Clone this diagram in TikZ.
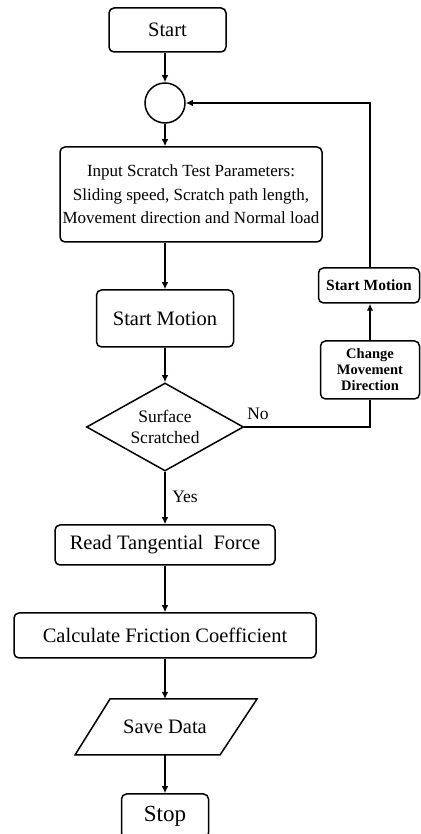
\documentclass[tikz,border=0pt]{standalone}
\usepackage{fontspec}
\setmainfont{Liberation Serif}
\usetikzlibrary{arrows.meta,shapes.geometric,calc}
\begin{document}
\begin{tikzpicture}[x=1pt,y=1pt,
 box/.style={draw,line width=1.5pt,rounded corners=5pt,inner sep=0pt,align=center,font=\fontsize{20.5}{24}\selectfont},
 sbox/.style={box,font=\bfseries\fontsize{14.5}{16}\selectfont},
 arr/.style={line width=1.3pt,-{Latex[length=7pt,width=6.5pt]}},
 ln/.style={line width=1.3pt},
 lbl/.style={font=\fontsize{17.5}{21}\selectfont,inner sep=0pt}]
\useasboundingbox (0,0) rectangle (420,834);
\node[box,minimum width=117pt,minimum height=44pt] (start) at (167.5,804) {Start};
\node[draw,circle,line width=1.5pt,minimum size=40pt,inner sep=0pt] (junc) at (165,731) {};
\node[box,minimum width=262pt,minimum height=95pt,font=\fontsize{17}{23.5}\selectfont] (input) at (191,639.5) {Input Scratch Test Parameters:\\Sliding speed, Scratch path length,\\Movement direction and Normal load};
\node[box,minimum width=137pt,minimum height=57pt] (motion) at (165,515.5) {Start Motion};
\node[draw,diamond,line width=1.5pt,minimum width=157pt,minimum height=88pt,aspect=1.78,inner sep=0pt,align=center,font=\fontsize{17.5}{21}\selectfont] (dec) at (165,407) {Surface\\Scratched};
\node[sbox,minimum width=99pt,minimum height=58pt] (chg) at (370,464) {Change\\Movement\\Direction};
\node[sbox,minimum width=101pt,minimum height=35pt,font=\bfseries\fontsize{15.5}{18}\selectfont] (sm) at (369,548.5) {Start Motion};
\node[box,minimum width=220pt,minimum height=40pt] (read) at (165,289) {Read Tangential\ \ Force};
\node[box,minimum width=302pt,minimum height=45pt] (calc) at (165,198.5) {Calculate Friction Coefficient};
\node[inner sep=0pt,font=\fontsize{20.5}{24}\selectfont] (save) at (165,107) {Save Data};
\draw[line width=1.5pt] (75,79) -- (110,135) -- (257,135) -- (220,79) -- cycle;
\coordinate (savetop) at (165,135);
\coordinate (savebot) at (165,79);
\node[box,minimum width=87pt,minimum height=44pt,font=\fontsize{23}{26}\selectfont] (stop) at (165,18) {Stop};
\node[lbl] (no) at (258,420) {No};
\node[lbl] (yes) at (185,337) {Yes};
\draw[arr] (junc.north |- start.south) -- (junc.north);
\draw[arr] (junc.south) -- (junc.south |- input.north);
\draw[arr] (motion.north |- input.south) -- (motion.north);
\draw[arr] (motion.south) -- (dec.north);
\draw[ln] (dec.east) -| (chg.south);
\draw[arr] (chg.north) -- (chg.north |- sm.south);
\draw[arr] (chg.north |- sm.north) |- (junc.east);
\draw[arr] (dec.south) -- (read.north);
\draw[arr] (read.south) -- (calc.north);
\draw[arr] (calc.south) -- (savetop);
\draw[arr] (savebot) -- (stop.north);
\end{tikzpicture}
\end{document}
